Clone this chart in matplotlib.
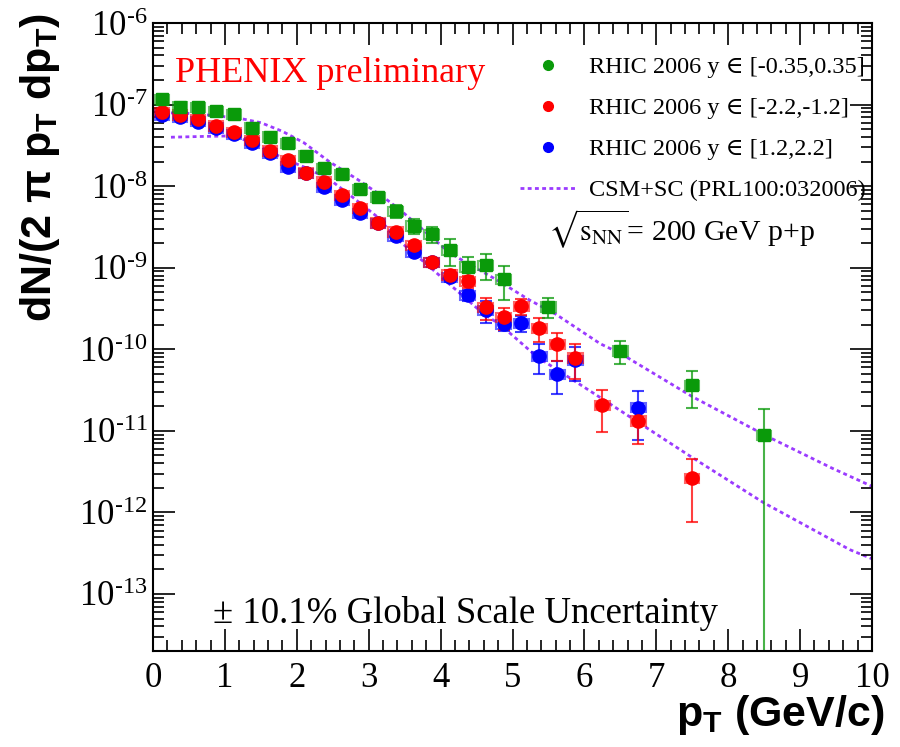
import numpy as np
import matplotlib
matplotlib.use("Agg")
import matplotlib.pyplot as plt
from matplotlib.patches import Rectangle
from matplotlib.lines import Line2D
from matplotlib.ticker import LogLocator, MultipleLocator, NullFormatter, FuncFormatter, FixedLocator

plt.rcParams["font.family"] = "Liberation Serif"
plt.rcParams["mathtext.fontset"] = "stix"
plt.rcParams["mathtext.rm"] = "Liberation Sans:bold"
plt.rcParams["mathtext.it"] = "Liberation Sans:bold"
plt.rcParams["mathtext.bf"] = "Liberation Sans:bold"

# J/psi invariant yield, RHIC 2006 p+p
pt_mid = [0.125, 0.375, 0.625, 0.875, 1.125, 1.375, 1.625, 1.875, 2.125, 2.375, 2.625, 2.875,
          3.125, 3.375, 3.625, 3.875, 4.125, 4.375, 4.625, 4.875, 5.5, 6.5, 7.5, 8.5]
y_mid = [1.17e-7, 9.4e-8, 9.3e-8, 8.3e-8, 7.6e-8, 5.2e-8, 4.05e-8, 3.36e-8, 2.37e-8, 1.66e-8,
         1.41e-8, 9.25e-9, 7.3e-9, 4.97e-9, 3.28e-9, 2.6e-9, 1.65e-9, 1.03e-9, 1.08e-9, 7.3e-10,
         3.33e-10, 9.6e-11, 3.66e-11, 8.9e-12]
rel_mid = [0.03, 0.03, 0.03, 0.04, 0.04, 0.05, 0.05, 0.06, 0.07, 0.08, 0.09, 0.10,
           0.12, 0.18, 0.20, 0.23, 0.37, 0.33, 0.35, 0.45, 0.27, 0.32, 0.48, 1.1]

pt_south = [0.125, 0.375, 0.625, 0.875, 1.125, 1.375, 1.625, 1.875, 2.125, 2.375, 2.625, 2.875,
            3.125, 3.375, 3.625, 3.875, 4.125, 4.375, 4.625, 4.875, 5.125, 5.375, 5.625, 5.875,
            6.25, 6.75, 7.5]
y_south = [8.05e-8, 7.5e-8, 6.6e-8, 5.5e-8, 4.58e-8, 3.68e-8, 2.72e-8, 2.09e-8, 1.46e-8, 1.13e-8,
           7.8e-9, 5.36e-9, 3.57e-9, 2.77e-9, 1.9e-9, 1.17e-9, 8.2e-10, 6.8e-10, 3.28e-10, 2.47e-10,
           3.4e-10, 1.82e-10, 1.15e-10, 7.9e-11, 2.08e-11, 1.33e-11, 2.63e-12]
rel_south = [0.02, 0.02, 0.02, 0.03, 0.03, 0.03, 0.04, 0.04, 0.05, 0.05, 0.06, 0.07,
             0.08, 0.09, 0.10, 0.12, 0.14, 0.17, 0.30, 0.30, 0.23, 0.33, 0.37, 0.45,
             0.53, 0.48, 0.71]

pt_north = [0.125, 0.375, 0.625, 0.875, 1.125, 1.375, 1.625, 1.875, 2.125, 2.375, 2.625, 2.875,
            3.125, 3.375, 3.625, 3.875, 4.125, 4.375, 4.625, 4.875, 5.125, 5.375, 5.625, 5.875,
            6.75]
y_north = [7.5e-8, 7.1e-8, 6.2e-8, 5.2e-8, 4.33e-8, 3.4e-8, 2.53e-8, 1.73e-8, 1.44e-8, 9.7e-9,
           6.8e-9, 4.66e-9, 3.5e-9, 2.45e-9, 1.57e-9, 1.17e-9, 7.7e-10, 4.65e-10, 3.04e-10, 2.05e-10,
           2.09e-10, 8.3e-11, 5.0e-11, 7.4e-11, 1.93e-11]
rel_north = [0.02, 0.02, 0.02, 0.03, 0.03, 0.03, 0.04, 0.04, 0.05, 0.05, 0.06, 0.07,
             0.08, 0.09, 0.10, 0.12, 0.14, 0.16, 0.30, 0.18, 0.22, 0.40, 0.44, 0.45, 0.60]

sys_rel = 0.13   # systematic box half height (relative)
box_hw = 0.1     # box half width in pT

# CSM+SC curves
csm_mid_pt = [0.25, 0.4, 0.8, 1.2, 1.5, 1.8, 2.1, 2.45, 2.85, 3.2, 3.45, 4.13, 4.78, 5.24, 5.6,
              6.22, 6.5, 7.5, 8.55, 9.45, 10.0]
csm_mid = [7.9e-8, 7.9e-8, 7.4e-8, 6.8e-8, 6.0e-8, 4.7e-8, 3.4e-8, 2.0e-8, 1.2e-8, 7.4e-9, 5.0e-9,
           1.51e-9, 7.1e-10, 4.0e-10, 2.7e-10, 1.17e-10, 8.9e-11, 2.63e-11, 8.5e-12, 3.47e-12, 2.09e-12]
csm_fwd_pt = [0.25, 0.7, 1.05, 1.35, 1.58, 1.81, 2.14, 2.46, 2.74, 3.11, 3.41, 3.85, 4.59, 4.83,
              5.34, 6.2, 7.47, 8.49, 9.69, 10.0]
csm_fwd = [3.98e-8, 4.07e-8, 4.12e-8, 3.55e-8, 2.82e-8, 2.19e-8, 1.66e-8, 1.2e-8, 7.76e-9, 4.27e-9,
           2.19e-9, 1.02e-9, 2.75e-10, 2.0e-10, 8.1e-11, 2.63e-11, 4.9e-12, 1.32e-12, 3.5e-13, 2.7e-13]

y_decades = [1e-13, 1e-12, 1e-11, 1e-10, 1e-9, 1e-8, 1e-7, 1e-6]

c_mid, c_south, c_north, c_csm = "#0a9a0a", "#ff0000", "#0000ff", "#9b3bff"

fig = plt.figure(figsize=(9, 7.47), dpi=100)
ax = fig.add_axes([0.17, 0.1285, 0.7989, 0.8407])


def draw_set(pt, y, rel, color, marker, ms):
    pt = np.array(pt)
    y = np.array(y)
    err = np.array(rel) * y
    for xi, yi in zip(pt, y):
        ax.add_patch(Rectangle((xi - box_hw, yi * (1 - sys_rel)), 2 * box_hw, 2 * sys_rel * yi,
                               fill=False, edgecolor=color, alpha=0.6, lw=1.5, zorder=2))
    ax.errorbar(pt, y, yerr=err, fmt="none", ecolor=color, elinewidth=1.5, capsize=4,
                capthick=1.5, alpha=0.75, zorder=2)
    ax.plot(pt, y, ls="none", marker=marker, ms=ms, color=color, zorder=3)


draw_set(pt_north, y_north, rel_north, c_north, "o", 9.5)
draw_set(pt_south, y_south, rel_south, c_south, "o", 9.5)
draw_set(pt_mid, y_mid, rel_mid, c_mid, "s", 8.5)

ax.plot(csm_mid_pt, csm_mid, color=c_csm, lw=2, dashes=(1.4, 1.2), zorder=1)
ax.plot(csm_fwd_pt, csm_fwd, color=c_csm, lw=2, dashes=(1.4, 1.2), zorder=1)

ax.set_yscale("log", nonpositive="clip")
ax.set_xlim(0, 10)
ax.set_ylim(2e-14, 1e-6)

ax.xaxis.set_major_locator(MultipleLocator(1))
ax.xaxis.set_minor_locator(MultipleLocator(0.2))
ax.yaxis.set_major_locator(FixedLocator(y_decades))
ax.yaxis.set_minor_locator(LogLocator(base=10, subs=np.arange(2, 10), numticks=20))
ax.yaxis.set_minor_formatter(NullFormatter())
ax.yaxis.set_major_formatter(FuncFormatter(
    lambda v, pos: r"$\mathdefault{10^{\text{-}%d}}$" % round(-np.log10(v))))

ax.tick_params(which="both", direction="in", top=True, right=True, width=1.2, labelsize=25)
ax.tick_params(which="major", length=15.5)
ax.tick_params(which="minor", length=8)
ax.tick_params(axis="x", pad=8)
ax.tick_params(axis="y", pad=4)
for sp in ax.spines.values():
    sp.set_linewidth(1.5)

for lbl in ax.get_yticklabels():
    lbl.set_math_fontfamily("stix")

handles = [
    Line2D([], [], ls="none", marker="o", ms=7, color=c_mid),
    Line2D([], [], ls="none", marker="o", ms=7, color=c_south),
    Line2D([], [], ls="none", marker="o", ms=7, color=c_north),
    Line2D([], [], color=c_csm, lw=2, dashes=(1.4, 1.2)),
]
labels = [
    "RHIC 2006 y \u2208 [-0.35,0.35]",
    "RHIC 2006 y \u2208 [-2.2,-1.2]",
    "RHIC 2006 y \u2208 [1.2,2.2]",
    "CSM+SC (PRL100:032006)",
]
ax.legend(handles, labels, loc="upper left", bbox_to_anchor=(0.51, 0.947), frameon=False,
          handlelength=2.35, handletextpad=0.5, labelspacing=0.78,
          borderpad=0, borderaxespad=0,
          prop={"family": ["Liberation Serif", "DejaVu Serif"], "size": 17.5})

ax.text(0.0306, 0.92, "PHENIX preliminary", transform=ax.transAxes, color="red",
        fontsize=26, ha="left", va="center")
ax.text(0.55, 0.671, r"$\sqrt{\mathrm{s}_{\mathrm{NN}}}$= 200 GeV p+p", transform=ax.transAxes,
        fontsize=21.5, ha="left", va="center", math_fontfamily="stix")
ax.text(0.0834, 0.06, "\u00b1 10.1% Global Scale Uncertainty", transform=ax.transAxes,
        fontsize=26.5, ha="left", va="center")

fig.text(0.045, 0.776, r"dN/(2 $\pi$ p$_{\mathrm{T}}$ dp$_{\mathrm{T}}$)", rotation=90,
         ha="center", va="center", fontsize=31, fontweight="bold", family="Liberation Sans",
         math_fontfamily="custom")
fig.text(0.983, 0.043, r"p$_{\mathrm{T}}$ (GeV/c)", ha="right", va="center", fontsize=31,
         fontweight="bold", family="Liberation Sans", math_fontfamily="custom")

fig.savefig("out.png", dpi=100)
